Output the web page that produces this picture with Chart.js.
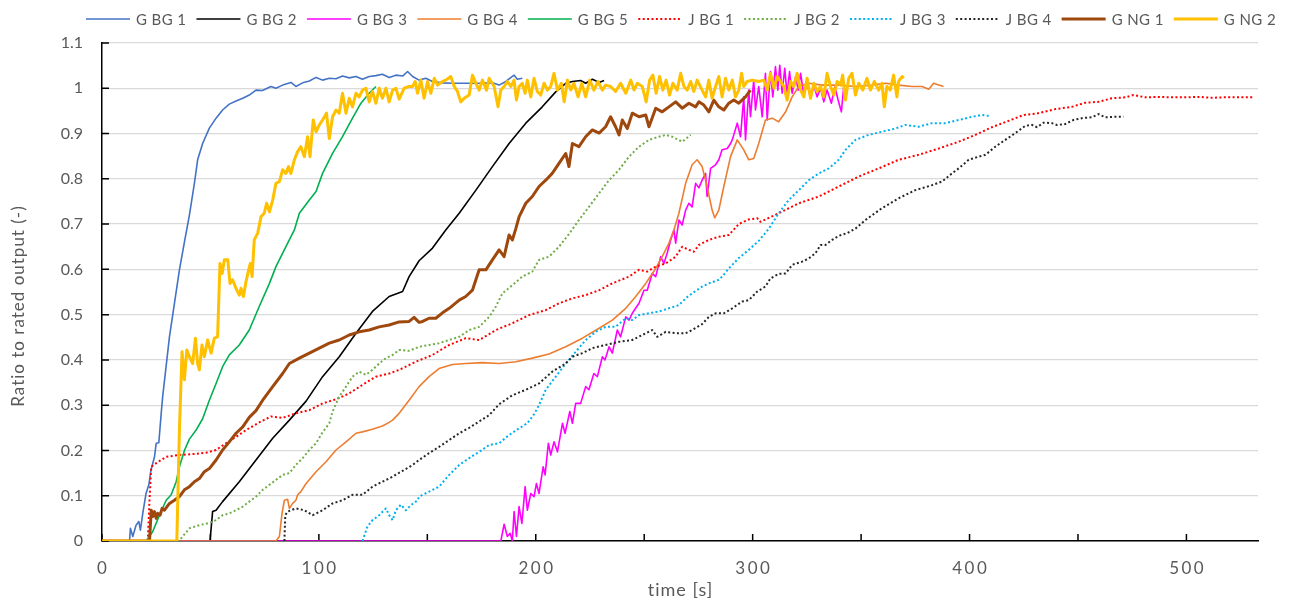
<!DOCTYPE html>
<html>
<head>
<meta charset="utf-8">
<title>Ratio to rated output</title>
<script src="https://cdn.jsdelivr.net/npm/chart.js@4.4.1/dist/chart.umd.min.js"></script>
<style>
  html, body { margin: 0; padding: 0; background: #ffffff; }
  canvas { display: block; }
</style>
</head>
<body>
<canvas id="chart" width="1291" height="600"></canvas>
<script>
// Series names, in legend order
const seriesNames = ['G BG 1', 'G BG 2', 'G BG 3', 'G BG 4', 'G BG 5',
                     'J BG 1', 'J BG 2', 'J BG 3', 'J BG 4', 'G NG 1', 'G NG 2'];

// x axis: labelled ticks and minor tick marks (time in s)
const xTickLabels = [0, 100, 200, 300, 400, 500];
const xTickMarks = [0, 50, 100, 150, 200, 250, 300, 350, 400, 450, 500];

// Each series: [time s, ratio to rated output]
const gbg1 = [[0,0],[12.7,0],[13.1,0.028],[14.2,0.01],[15.7,0.035],[17,0.043],[17.7,0.024],[18.8,0.061],[20.3,0.105],[21.6,0.124],[22.6,0.157],[24.2,0.186],[25,0.216],[26.2,0.217],[27.3,0.282],[28,0.32],[31.1,0.451],[33.4,0.525],[35.7,0.599],[38,0.66],[40.3,0.72],[42.6,0.79],[44.1,0.842],[46.4,0.878],[49.5,0.912],[52.6,0.934],[55.6,0.952],[58.7,0.965],[61.8,0.972],[64.9,0.978],[67.9,0.985],[71,0.996],[74,0.995],[77.9,1.004],[80.2,1.0],[83.3,1.007],[87.1,1.013],[89.4,1.004],[92.5,1.012],[95.6,1.016],[98.7,1.024],[101.7,1.018],[104.8,1.022],[107.9,1.021],[110.9,1.027],[114,1.023],[117.1,1.026],[120.1,1.02],[123.2,1.026],[126.3,1.028],[129.3,1.031],[132.4,1.024],[135.5,1.029],[138.6,1.027],[140.9,1.037],[143.2,1.026],[146.2,1.018],[149.3,1.022],[152.4,1.015],[157,1.012],[161.6,1.011],[167.7,1.011],[173.9,1.011],[180,1.012],[183.1,1.007],[186.2,1.015],[190,1.029],[191.5,1.02],[193.8,1.022]];

const gbg2 = [[0,0],[49.8,0],[51,0.065],[52.6,0.068],[55.6,0.087],[63.3,0.131],[71,0.179],[78.7,0.227],[86.4,0.267],[94.1,0.309],[101.7,0.363],[109.4,0.407],[117.1,0.459],[124.7,0.507],[132.4,0.54],[138.6,0.551],[141.6,0.584],[146.2,0.619],[152.4,0.647],[158.5,0.687],[164.7,0.724],[172.4,0.775],[180,0.827],[187.7,0.878],[195.4,0.923],[203,0.959],[209.2,0.992],[213.8,1.011],[216.9,1.015],[220.7,1.017],[223,1.011],[226.1,1.02],[229.2,1.013],[231.5,1.017]];

const gbg3 = [[0,0],[183.9,0],[185.4,0.037],[186.9,0.01],[188.2,0.017],[189.2,0],[190,0.065],[191.1,0.01],[192.3,0.076],[193.6,0.039],[195.1,0.12],[196.1,0.068],[197.7,0.105],[199.2,0.098],[200.3,0.127],[201.5,0.105],[203.4,0.164],[204.3,0.146],[205.8,0.216],[206.9,0.19],[208.4,0.219],[210,0.197],[212.3,0.26],[213.5,0.238],[215.7,0.286],[216.9,0.26],[218.4,0.304],[220.7,0.304],[223,0.341],[224.5,0.334],[226.8,0.37],[228.4,0.363],[230.7,0.407],[231.9,0.4],[233.8,0.429],[235.3,0.415],[237.6,0.466],[239.1,0.451],[241.5,0.495],[243,0.488],[244.5,0.503],[247.6,0.525],[249.9,0.554],[251.4,0.554],[253.7,0.591],[255.3,0.584],[257.6,0.628],[259.1,0.613],[260.6,0.636],[262.2,0.665],[263.7,0.687],[264.5,0.658],[266,0.709],[267.5,0.698],[269.1,0.731],[270.6,0.746],[272.1,0.738],[273.7,0.79],[275.2,0.78],[276.7,0.797],[278.3,0.812],[279,0.761],[280.6,0.823],[282.9,0.831],[284.4,0.842],[285.9,0.864],[288.3,0.867],[289.8,0.878],[290.6,0.886],[292.9,0.923],[294.4,0.893],[295.9,0.981],[296.7,0.886],[298.2,0.996],[299,0.937],[300.5,1.018],[301.3,0.952],[302.8,1.004],[304.4,0.937],[305.9,1.033],[306.7,0.93],[308.2,1.037],[309.3,0.981],[310.5,1.048],[311.6,0.996],[312.5,1.051],[313.6,0.989],[314.8,1.044],[315.9,0.985],[317,1.037],[318.2,0.989],[319.8,1.026],[321,0.996],[322.1,1.033],[323.6,0.985],[325.1,1.011],[326.7,0.978],[328.2,1.007],[329.7,0.981],[331.3,1.0],[332.8,0.97],[334.3,0.996],[336.3,0.967],[337.9,1.004],[339.4,0.974],[340.9,0.948],[342,1.004]];

const gbg4 = [[0,0],[80.2,0],[81.8,0.01],[83,0.061],[84.1,0.09],[85.6,0.092],[86.4,0.072],[87.9,0.083],[89.4,0.09],[90.2,0.102],[91.7,0.109],[94.1,0.127],[98.7,0.153],[103.3,0.175],[107.9,0.201],[112.5,0.219],[117.1,0.238],[120.1,0.241],[124.7,0.247],[129.3,0.254],[132.4,0.262],[134,0.267],[137,0.282],[141.6,0.311],[146.2,0.341],[150.8,0.363],[155.4,0.381],[161.6,0.39],[167.7,0.392],[175.4,0.394],[183.1,0.392],[190.8,0.396],[198.4,0.404],[206.1,0.413],[213.8,0.429],[221.5,0.448],[229.2,0.47],[235.3,0.488],[241.5,0.514],[246.1,0.54],[250.7,0.569],[255.3,0.602],[258.3,0.628],[261.4,0.658],[263.7,0.687],[266,0.724],[269.1,0.79],[272.1,0.831],[274.4,0.842],[276.7,0.827],[279,0.783],[281.3,0.731],[282.5,0.714],[284.4,0.731],[286.7,0.783],[289.8,0.849],[292.9,0.886],[295.9,0.864],[298.2,0.842],[300.5,0.845],[302.8,0.878],[305.9,0.93],[309,0.934],[312,0.926],[315.2,0.948],[318.2,0.981],[321.3,1.004],[325.9,1.011],[332,1.007],[339.7,1.007],[347.4,1.004],[355,1.007],[361.2,1.011],[367.3,1.007],[373.5,1.004],[378.1,1.004],[381.2,0.998],[383.4,1.011],[385.8,1.007],[388,1.004]];

const gbg5 = [[0,0],[20.4,0],[23.4,0.021],[26.5,0.057],[29.6,0.09],[31.9,0.102],[34.2,0.131],[35.7,0.164],[38,0.2],[40.3,0.225],[43.4,0.245],[46.4,0.27],[49.5,0.311],[52.6,0.348],[55.6,0.385],[58.7,0.411],[63.3,0.433],[67.9,0.466],[72.5,0.518],[77.2,0.569],[80.2,0.606],[84.8,0.65],[88.7,0.687],[91,0.724],[95.6,0.753],[98.7,0.772],[101.7,0.812],[106.3,0.856],[110.9,0.893],[115.5,0.934],[119.4,0.967],[123.2,0.989],[126.3,1.004]];

const jbg1 = [[21.1,0],[21.9,0.09],[22.7,0.164],[25,0.172],[29.6,0.186],[35.7,0.19],[41.8,0.192],[48,0.195],[52.6,0.201],[57.2,0.216],[61.8,0.23],[66.4,0.245],[72.5,0.262],[77.9,0.275],[83.3,0.272],[89.4,0.282],[95.6,0.289],[101.7,0.304],[107.9,0.313],[114,0.326],[120.1,0.345],[126.3,0.363],[132.4,0.37],[137,0.378],[144.7,0.396],[152.4,0.411],[160.1,0.433],[167.7,0.448],[173.9,0.444],[181.6,0.466],[189.2,0.481],[196.9,0.499],[204.6,0.51],[210.7,0.525],[216.9,0.536],[223,0.543],[229.2,0.554],[235.3,0.569],[243,0.584],[247.6,0.599],[251.4,0.595],[255.3,0.606],[259.9,0.613],[264.5,0.628],[267.5,0.65],[270.6,0.643],[272.9,0.639],[275.2,0.654],[279.8,0.665],[284.4,0.672],[289,0.676],[293.6,0.7],[298,0.71],[302.1,0.713],[303.6,0.705],[312,0.724],[321.3,0.746],[330.5,0.761],[339.7,0.783],[348.9,0.805],[358.1,0.823],[367.3,0.842],[376.5,0.853],[385.8,0.867],[395,0.882],[402.7,0.897],[410.3,0.914],[418,0.928],[424.9,0.941],[431.8,0.945],[439.5,0.954],[447.2,0.959],[453.3,0.968],[459.5,0.97],[465.6,0.978],[471.8,0.98],[475.6,0.985],[481,0.98],[487.1,0.981],[493.2,0.98],[499.4,0.98],[505.5,0.981],[511.6,0.979],[517.8,0.98],[523.9,0.98],[531.3,0.98]];

const jbg2 = [[34.5,0],[36.5,0.006],[40.3,0.028],[44.9,0.035],[49.5,0.04],[52.6,0.046],[55.6,0.057],[58.7,0.061],[61.8,0.068],[64.9,0.076],[67.9,0.087],[71,0.098],[74.1,0.113],[77.2,0.124],[80.2,0.135],[83.3,0.146],[86.4,0.15],[89.4,0.168],[92.5,0.183],[95.6,0.201],[98.7,0.216],[101.7,0.24],[104.8,0.26],[106.3,0.286],[109.4,0.319],[112.5,0.341],[115.5,0.363],[118.6,0.374],[121.7,0.367],[124.7,0.378],[127.8,0.392],[130.9,0.404],[134,0.411],[137,0.422],[141.6,0.42],[146.2,0.429],[150.8,0.433],[155.4,0.437],[160.1,0.444],[164.7,0.451],[169.3,0.466],[173.9,0.473],[178.5,0.495],[181.6,0.518],[184.6,0.547],[189.2,0.565],[193.8,0.584],[198.4,0.595],[201.5,0.621],[206.1,0.628],[210.7,0.65],[215.3,0.678],[219.9,0.709],[224.5,0.738],[229.2,0.768],[233.8,0.797],[238.4,0.82],[243,0.849],[247.6,0.871],[252.2,0.886],[256.8,0.893],[259.9,0.897],[262.9,0.893],[267.5,0.882],[271.4,0.897]];

const jbg3 = [[120.1,0],[122.4,0.032],[124.7,0.046],[127.8,0.057],[130.9,0.072],[132.4,0.057],[134,0.046],[135.5,0.068],[137.8,0.08],[140.1,0.068],[142.4,0.079],[145.5,0.09],[146.2,0.098],[150.8,0.109],[155.4,0.12],[160.1,0.146],[164.7,0.168],[169.3,0.183],[173.9,0.197],[178.5,0.212],[183.1,0.216],[187.7,0.234],[192.3,0.249],[196.1,0.26],[199.2,0.28],[201.5,0.3],[204.6,0.334],[209.2,0.363],[213.8,0.392],[218.4,0.418],[223,0.444],[227.6,0.462],[232.2,0.473],[236.8,0.473],[241.5,0.492],[244.5,0.488],[247.6,0.499],[252.2,0.503],[256.8,0.507],[261.4,0.514],[266,0.521],[269.1,0.536],[272.1,0.547],[276.7,0.562],[279.8,0.569],[284.4,0.577],[285.9,0.584],[289,0.602],[293.6,0.625],[298.2,0.643],[302.8,0.663],[307.5,0.69],[312,0.724],[316.6,0.753],[321.3,0.775],[325.9,0.797],[330.5,0.812],[335.1,0.823],[339.7,0.842],[342.8,0.864],[347.4,0.886],[353.4,0.897],[359.6,0.904],[365.8,0.911],[370.4,0.919],[376.5,0.915],[382.7,0.923],[388.8,0.923],[395,0.93],[401.1,0.937],[405.7,0.941],[408.8,0.939]];

const jbg4 = [[84.1,0],[84.5,0.057],[85.6,0.065],[89.4,0.072],[93.3,0.068],[97.1,0.057],[101.7,0.068],[106.3,0.083],[110.9,0.09],[115.5,0.102],[120.1,0.102],[124.7,0.12],[129.3,0.131],[134,0.142],[138.6,0.155],[143.2,0.168],[146.2,0.179],[150.8,0.194],[155.4,0.208],[160.1,0.223],[164.7,0.238],[169.3,0.25],[173.9,0.264],[178.5,0.278],[183.1,0.302],[189.2,0.322],[195.4,0.334],[201.5,0.348],[207.6,0.374],[213.8,0.392],[216.9,0.407],[221.5,0.415],[226.1,0.426],[232.2,0.433],[238.4,0.44],[244.5,0.444],[249.1,0.455],[253.7,0.466],[256,0.451],[259.9,0.462],[264.5,0.459],[269.1,0.459],[272.1,0.466],[276.7,0.479],[279.8,0.495],[282.9,0.503],[286.7,0.503],[290.6,0.514],[295.2,0.529],[298.2,0.532],[302.1,0.551],[305.9,0.562],[308.2,0.58],[312,0.59],[315.2,0.591],[318.2,0.61],[322.8,0.617],[325.9,0.624],[329,0.636],[331.3,0.654],[333.6,0.654],[336.6,0.665],[339.7,0.674],[343.5,0.68],[347.4,0.69],[352,0.709],[359.6,0.735],[367.3,0.757],[375,0.775],[382.7,0.786],[387.3,0.794],[391.9,0.812],[395,0.823],[399.6,0.842],[404.2,0.849],[407.3,0.853],[411.9,0.871],[416.5,0.886],[421.1,0.901],[425.7,0.917],[428.8,0.919],[431.1,0.914],[434.2,0.924],[438,0.923],[440.3,0.919],[444.1,0.921],[447.9,0.93],[451.8,0.934],[456.4,0.936],[459.5,0.943],[462.5,0.936],[467.2,0.937],[471,0.937]];

const gng1 = [[0,0],[21.9,0],[22.7,0.068],[23.4,0.054],[24.2,0.065],[25,0.05],[25.7,0.061],[26.8,0.057],[27.7,0.072],[28.8,0.068],[31.1,0.083],[33.4,0.09],[35.7,0.098],[38,0.113],[40.3,0.12],[42.6,0.131],[44.9,0.138],[47.2,0.153],[49.5,0.16],[52.6,0.179],[55.6,0.201],[58.7,0.219],[61.8,0.238],[64.9,0.252],[67.9,0.273],[71,0.288],[74.1,0.311],[78.7,0.341],[83.3,0.37],[86.4,0.392],[91,0.404],[95.6,0.415],[100.2,0.426],[104.8,0.437],[109.4,0.444],[114,0.455],[118.6,0.462],[123.2,0.466],[127.8,0.473],[132.4,0.477],[137,0.484],[141.6,0.485],[143.9,0.494],[146.2,0.483],[147.8,0.485],[150.8,0.492],[153.9,0.492],[157,0.504],[160.1,0.514],[164.7,0.532],[167.7,0.54],[170.8,0.554],[173.9,0.599],[177,0.599],[180,0.621],[183.1,0.643],[185.4,0.628],[187.7,0.676],[189.2,0.665],[190.8,0.69],[192.3,0.716],[195.4,0.746],[198.4,0.761],[201.5,0.783],[204.6,0.797],[207.6,0.812],[210.7,0.834],[213.8,0.856],[215.3,0.827],[216.9,0.878],[219.9,0.871],[223,0.893],[226.1,0.908],[229.2,0.901],[232.2,0.915],[234.5,0.937],[236.8,0.915],[238.4,0.897],[239.9,0.93],[242.2,0.911],[244.5,0.945],[247.6,0.937],[250.7,0.941],[252.2,0.915],[255.3,0.956],[258.3,0.948],[261.4,0.959],[264.5,0.97],[267.5,0.956],[270.6,0.967],[273.7,0.959],[275.2,0.97],[277.5,0.963],[279.8,0.948],[282.1,0.974],[284.4,0.959],[286.7,0.952],[289,0.967],[291.3,0.974],[293.6,0.967],[296.7,0.981],[299,0.996]];

const gng2 = [[0,0],[34.5,0],[35.7,0.245],[36.9,0.418],[38,0.356],[39.1,0.422],[40.3,0.407],[41.8,0.392],[43.1,0.448],[44.1,0.392],[44.9,0.378],[46.1,0.433],[47.2,0.407],[48.7,0.444],[50.3,0.415],[51.8,0.448],[53.3,0.451],[54.4,0.613],[55.4,0.591],[56.4,0.621],[58,0.621],[59,0.569],[60.2,0.577],[61.8,0.558],[63.3,0.543],[64.1,0.558],[65.2,0.54],[66.4,0.573],[67.6,0.599],[68.4,0.613],[69.2,0.584],[70.2,0.665],[71.8,0.68],[73.3,0.716],[74.8,0.724],[75.9,0.746],[77.2,0.727],[78.7,0.753],[80.2,0.79],[81.8,0.794],[83.3,0.82],[84.8,0.812],[86,0.827],[87.1,0.812],[88.7,0.842],[90.2,0.86],[91.7,0.871],[93.3,0.849],[94.8,0.893],[95.9,0.849],[97.4,0.93],[98.7,0.904],[100.2,0.919],[101.7,0.93],[103.5,0.945],[104.8,0.889],[106.3,0.937],[107.9,0.952],[109.4,0.945],[110.9,0.989],[112.5,0.945],[114,0.978],[115.5,0.959],[117.1,0.989],[118.6,0.981],[120.1,0.996],[121.7,1.0],[123.2,0.97],[124.7,0.993],[126.3,0.967],[127.8,1.0],[129.3,0.978],[130.9,1.0],[132.4,0.97],[134,0.996],[135.5,1.0],[137,0.976],[139.3,1.0],[141.6,1.004],[143.2,1.004],[144.4,1.015],[145.5,0.989],[147,1.018],[148.5,0.978],[150.1,1.015],[151.6,0.989],[153.2,1.022],[154.7,1.007],[157,1.015],[158.5,1.018],[160.8,1.026],[162.4,1.004],[163.9,0.993],[165.4,0.97],[167,0.978],[169.3,0.985],[170.8,1.029],[172.4,1.011],[173.9,0.996],[175.4,1.018],[177.3,0.996],[178.5,1.022],[180.8,1.004],[182.6,0.959],[183.9,0.996],[185.4,1.004],[186.9,1.015],[188.5,1.004],[190,1.018],[191.1,0.974],[192.3,1.004],[193.8,1.011],[195.1,0.989],[196.1,1.018],[197.7,0.981],[199.2,1.022],[200.7,0.993],[202.3,0.985],[203.8,1.011],[205.4,0.996],[206.9,1.004],[208.4,1.033],[210,0.996],[211.8,1.011],[213.1,0.97],[214.6,1.018],[216.1,0.996],[217.6,1.011],[219.5,0.981],[221.2,1.011],[223,0.981],[224.9,1.018],[226.8,0.996],[228.7,1.015],[230.7,0.996],[232.2,1.007],[234.5,1.004],[236.8,0.993],[239.1,1.011],[241.5,0.989],[243.8,1.018],[245.3,0.996],[246.8,1.011],[249.1,1.004],[250.9,0.97],[252.5,1.018],[254,1.029],[255.5,0.989],[257.1,1.026],[258.6,0.996],[260.1,1.018],[261.7,0.985],[263.2,1.011],[265.2,0.996],[266.8,1.033],[268.3,1.004],[269.8,0.996],[271.4,1.015],[272.9,0.993],[274.4,1.018],[276.7,0.996],[278.3,0.981],[279.8,1.018],[281.3,0.978],[282.9,1.004],[284.4,1.026],[285.9,0.981],[287.5,1.022],[289,0.996],[290.6,1.018],[292.1,0.981],[293.6,0.996],[294.9,1.033],[295.9,1.004],[297.5,1.015],[299.8,1.018],[302.8,1.015],[305.2,1.018],[306.7,0.996],[308.2,1.033],[309.8,1.0],[311.3,1.026],[312.8,1.015],[314.4,1.004],[315.9,0.974],[317.5,1.015],[319,1.004],[320.5,1.033],[322.1,0.996],[323.6,0.981],[325.1,1.022],[326.7,0.978],[328.2,1.011],[329.7,0.993],[331.3,1.004],[332.8,0.981],[334.3,1.033],[335.9,1.004],[337.4,0.985],[339,1.015],[340.5,1.007],[341.5,1.029],[342.8,0.974],[344.3,1.022],[345.8,1.033],[347.4,0.985],[348.9,1.011],[350.8,0.996],[352.7,1.022],[354.3,0.996],[356.1,1.015],[358.1,0.996],[359.6,1.011],[360.7,0.959],[361.9,1.004],[363.4,0.996],[365,1.029],[366.5,0.981],[367.3,1.015],[368.9,1.026],[369.6,1.022]];

const seriesData = [gbg1, gbg2, gbg3, gbg4, gbg5, jbg1, jbg2, jbg3, jbg4, gng1, gng2];

// Line styles per series
const styles = [
  { color: '#4472C4', width: 1.6 },
  { color: '#000000', width: 1.6 },
  { color: '#FF00FF', width: 1.6 },
  { color: '#ED7D31', width: 1.6 },
  { color: '#00B050', width: 1.6 },
  { color: '#FF0000', width: 2, dash: [2, 2.4] },
  { color: '#70AD47', width: 2, dash: [2, 2.4] },
  { color: '#00B0F0', width: 2, dash: [2, 2.4] },
  { color: '#262626', width: 2, dash: [2, 2.4] },
  { color: '#9E480E', width: 3 },
  { color: '#FFC000', width: 3 }
];

const TEXT = '#595959';
const FONT = 'Lato, "Open Sans", sans-serif';

const datasets = seriesData.map((pts, i) => ({
  label: seriesNames[i],
  data: pts.map(p => ({ x: p[0], y: p[1] })),
  borderColor: styles[i].color,
  backgroundColor: styles[i].color,
  borderWidth: styles[i].width,
  borderDash: styles[i].dash || [],
  borderCapStyle: 'butt',
  borderJoinStyle: 'round',
  pointRadius: 0,
  tension: 0,
  fill: false,
  order: seriesData.length - 1 - i   // later series are painted on top
}));

// Inside tick marks, x labels, axis titles and the top legend
const decor = {
  id: 'decor',
  beforeDatasetsDraw(chart) {
    const { ctx, chartArea: a, scales: { x, y } } = chart;
    ctx.save();
    ctx.strokeStyle = '#000000';
    ctx.lineWidth = 1.5;
    ctx.beginPath();
    xTickMarks.forEach(t => {
      const px = x.getPixelForValue(t);
      ctx.moveTo(px, a.bottom);
      ctx.lineTo(px, a.bottom - 7);
    });
    y.ticks.forEach(tk => {
      const py = y.getPixelForValue(tk.value);
      ctx.moveTo(a.left, py);
      ctx.lineTo(a.left + 7, py);
    });
    ctx.stroke();

    ctx.fillStyle = TEXT;
    ctx.textAlign = 'center';
    ctx.textBaseline = 'middle';
    ctx.font = '17px ' + FONT;
    ctx.letterSpacing = '2.5px';
    xTickLabels.forEach(t => {
      ctx.fillText(String(t), x.getPixelForValue(t) + 1.25, 569);
    });

    ctx.font = '18px ' + FONT;
    ctx.letterSpacing = '1px';
    ctx.fillText('time [s]', (a.left + a.right) / 2 + 0.5, 590);

    ctx.translate(19, 306);
    ctx.rotate(-Math.PI / 2);
    ctx.font = '17px ' + FONT;
    ctx.letterSpacing = '1px';
    ctx.fillText('Ratio to rated output (-)', 0, 0);
    ctx.restore();
  },
  afterDraw(chart) {
    const ctx = chart.ctx;
    ctx.save();
    ctx.font = '15px ' + FONT;
    ctx.letterSpacing = '0.4px';
    // legend row runs from x0 to x1
    const x0 = 86, x1 = 1276, lineLen = 44, gapIn = 6, yy = 19;
    const items = chart.data.datasets.map(ds => ({ ds, w: ctx.measureText(ds.label).width }));
    const used = items.reduce((s, it) => s + lineLen + gapIn + it.w, 0);
    const gapOut = (x1 - x0 - used) / (items.length - 1);
    let xx = x0;
    items.forEach(({ ds, w }) => {
      ctx.strokeStyle = ds.borderColor;
      ctx.lineWidth = ds.borderWidth;
      ctx.setLineDash(ds.borderDash);
      ctx.beginPath();
      ctx.moveTo(xx, yy);
      ctx.lineTo(xx + lineLen, yy);
      ctx.stroke();
      ctx.setLineDash([]);
      ctx.fillStyle = TEXT;
      ctx.textAlign = 'left';
      ctx.textBaseline = 'middle';
      ctx.fillText(ds.label, xx + lineLen + gapIn, yy + 1);
      xx += lineLen + gapIn + w + gapOut;
    });
    ctx.restore();
  }
};

new Chart(document.getElementById('chart'), {
  type: 'line',
  data: { datasets },
  plugins: [decor],
  options: {
    responsive: false,
    animation: false,
    devicePixelRatio: 1,
    layout: { padding: { top: 43, right: 33, left: 0, bottom: 0 } },
    plugins: {
      legend: { display: false },
      tooltip: { enabled: false },
      title: { display: false }
    },
    scales: {
      x: {
        type: 'linear',
        min: 0,
        max: 533,
        grid: { display: false },
        border: { display: true, color: '#000000', width: 1.5 },
        ticks: { display: false },
        afterFit: s => { s.height = 59; }
      },
      y: {
        type: 'linear',
        min: 0,
        max: 1.1,
        afterFit: s => { s.width = 102; },
        grid: { color: '#D9D9D9', lineWidth: 1.3, drawTicks: false },
        border: { display: true, color: '#000000', width: 1.5 },
        ticks: {
          stepSize: 0.1,
          padding: 19,
          color: TEXT,
          font: { family: FONT, size: 16 },
          callback: v => String(Math.round(v * 10) / 10)
        }
      }
    }
  }
});
</script>
</body>
</html>
